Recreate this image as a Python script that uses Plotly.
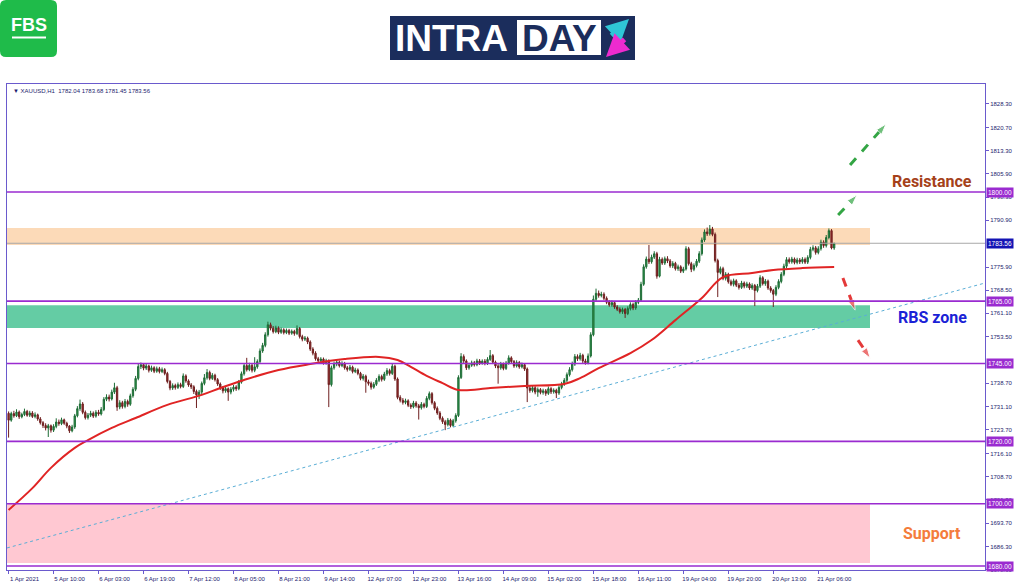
import plotly.graph_objects as go

# ---- data (hourly XAUUSD candles, bar index 0..312) ----
first_open = 1729.0
closes = [
    1726.8, 1728.9, 1728.2, 1729.4, 1727.9, 1728.6, 1729.6, 1728.4, 1729.1, 1728.0,
    1728.5, 1727.2, 1726.0, 1725.1, 1724.3, 1725.0, 1723.6, 1724.8, 1726.2, 1725.7,
    1726.9, 1725.8, 1724.9, 1723.4, 1724.6, 1728.2, 1730.5, 1732.0, 1729.3, 1727.6,
    1728.4, 1729.0, 1728.1, 1729.3, 1728.8, 1730.2, 1733.5, 1734.2, 1733.6, 1735.8,
    1737.2, 1731.0, 1732.4, 1731.2, 1732.8, 1731.9, 1734.6, 1736.7, 1740.2, 1744.0,
    1744.6, 1743.5, 1744.2, 1742.8, 1743.6, 1742.5, 1743.3, 1742.4, 1743.0, 1741.8,
    1739.2, 1737.1, 1737.9, 1737.3, 1738.2, 1737.6, 1741.0, 1739.4, 1738.1, 1737.5,
    1736.0, 1734.9, 1735.8, 1738.6, 1740.4, 1742.1, 1740.2, 1741.2, 1739.8, 1738.4,
    1737.1, 1736.2, 1736.9, 1735.8, 1736.7, 1737.4, 1736.9, 1739.0, 1741.7, 1744.3,
    1743.0, 1744.4, 1742.8, 1743.9, 1745.6, 1749.0, 1750.8, 1754.2, 1757.4, 1756.3,
    1755.2, 1756.4, 1755.0, 1755.8, 1754.9, 1755.6, 1754.7, 1755.3, 1754.6, 1756.2,
    1753.6, 1752.8, 1753.1, 1751.9, 1749.6, 1748.3, 1746.5, 1745.9, 1746.4, 1745.2,
    1745.8, 1738.2, 1743.6, 1744.8, 1745.4, 1744.3, 1745.0, 1743.6, 1743.1, 1743.8,
    1742.4, 1742.9, 1741.8, 1740.2, 1740.9, 1739.1, 1738.6, 1737.4, 1738.3, 1739.6,
    1740.8, 1739.9, 1741.6, 1742.7, 1741.8, 1744.1, 1740.0, 1734.1, 1733.2, 1732.5,
    1733.0, 1731.6, 1731.1, 1732.3, 1731.4, 1730.8, 1731.9, 1731.2, 1733.8, 1735.3,
    1732.4, 1730.6, 1729.1, 1727.4, 1726.3, 1725.4, 1726.8, 1725.1, 1726.6, 1728.3,
    1740.5, 1747.2, 1745.8, 1743.6, 1744.4, 1745.2, 1744.6, 1745.8, 1745.1, 1745.7,
    1745.0, 1746.3, 1747.5, 1745.4, 1744.2, 1743.6, 1744.8, 1743.4, 1745.1, 1746.8,
    1745.6, 1744.2, 1745.3, 1743.9, 1744.6, 1743.2, 1737.1, 1736.3, 1737.2, 1735.8,
    1736.6, 1735.7, 1736.2, 1735.4, 1736.9, 1735.9, 1736.4, 1735.5, 1737.3, 1738.4,
    1739.6, 1741.4, 1743.0, 1744.8, 1747.2, 1746.5, 1747.6, 1745.8, 1745.2, 1747.4,
    1754.2, 1765.6, 1767.5, 1766.8, 1767.2, 1765.9, 1764.6, 1763.8, 1764.5, 1763.1,
    1762.4, 1761.6, 1762.3, 1761.0, 1762.6, 1763.9, 1762.8, 1764.6, 1765.3, 1770.4,
    1776.0, 1778.5, 1777.6, 1779.1, 1780.2, 1773.0, 1778.4, 1777.2, 1778.6, 1777.9,
    1776.3, 1777.1, 1775.4, 1776.0, 1774.6, 1775.3, 1781.8, 1777.0, 1775.2, 1776.4,
    1777.8, 1780.2, 1784.6, 1787.2, 1786.6, 1788.1, 1786.4, 1778.0, 1774.2, 1775.4,
    1772.3, 1773.6, 1771.2, 1770.4, 1771.5, 1770.1, 1769.4, 1770.8, 1769.8, 1770.5,
    1769.2, 1770.0, 1768.4, 1769.8, 1772.5, 1770.6, 1771.4, 1769.2, 1768.4, 1767.2,
    1769.4, 1771.3, 1773.6, 1776.2, 1778.3, 1777.6, 1778.5, 1777.4, 1778.2, 1777.6,
    1778.4, 1777.5, 1779.0, 1781.6, 1782.1, 1780.6, 1781.8, 1783.9, 1782.8, 1785.4,
    1787.6, 1782.04, 1783.56,
]
highs = [
    1729.6, 1729.5, 1729.8, 1730.3, 1729.9, 1729.2, 1730.5, 1730.1, 1729.8, 1729.7,
    1729.3, 1728.9, 1727.8, 1726.5, 1725.8, 1725.6, 1725.4, 1725.5, 1727.4, 1727.0,
    1727.6, 1727.3, 1726.3, 1725.2, 1725.3, 1728.8, 1731.3, 1733.4, 1732.6, 1729.9,
    1729.1, 1729.8, 1729.6, 1730.0, 1730.1, 1731.0, 1734.2, 1735.1, 1735.0, 1736.6,
    1738.8, 1737.8, 1733.2, 1733.0, 1733.6, 1733.4, 1735.3, 1737.4, 1741.0, 1745.0,
    1745.3, 1745.0, 1744.9, 1744.6, 1744.3, 1744.1, 1744.0, 1743.9, 1743.7, 1743.5,
    1742.3, 1739.7, 1738.6, 1738.5, 1738.9, 1738.8, 1741.8, 1741.5, 1739.9, 1738.7,
    1738.0, 1736.6, 1736.5, 1739.2, 1741.6, 1743.2, 1742.7, 1741.9, 1741.7, 1740.3,
    1738.9, 1737.7, 1737.6, 1737.3, 1737.4, 1738.1, 1738.0, 1739.7, 1742.4, 1745.0,
    1746.8, 1745.2, 1744.9, 1747.0, 1746.3, 1749.8, 1751.6, 1755.0, 1758.4, 1758.1,
    1757.0, 1757.1, 1756.9, 1756.5, 1756.3, 1756.2, 1756.1, 1755.9, 1755.8, 1757.2,
    1756.7, 1754.2, 1753.8, 1753.6, 1752.4, 1750.2, 1748.9, 1747.1, 1747.0, 1746.9,
    1746.5, 1746.3, 1744.3, 1745.6, 1746.2, 1745.9, 1745.7, 1745.5, 1744.2, 1744.5,
    1744.3, 1743.6, 1743.4, 1742.3, 1741.6, 1741.4, 1739.8, 1739.2, 1739.0, 1740.3,
    1741.5, 1741.4, 1742.3, 1743.5, 1743.3, 1745.0, 1744.6, 1740.5, 1734.8, 1733.9,
    1733.7, 1733.5, 1732.2, 1733.0, 1732.9, 1732.0, 1732.6, 1732.4, 1734.5, 1736.0,
    1735.8, 1732.9, 1731.2, 1729.7, 1728.0, 1726.9, 1727.5, 1727.3, 1727.2, 1729.0,
    1741.2, 1748.3, 1747.9, 1746.3, 1745.2, 1745.9, 1745.8, 1746.5, 1746.4, 1746.3,
    1746.4, 1747.0, 1749.3, 1748.0, 1745.9, 1744.8, 1745.5, 1745.3, 1745.8, 1747.6,
    1747.3, 1746.1, 1746.0, 1745.8, 1745.3, 1745.1, 1743.7, 1737.8, 1737.9, 1737.7,
    1737.3, 1737.1, 1736.9, 1736.8, 1737.6, 1737.4, 1737.0, 1736.9, 1738.0, 1739.1,
    1740.3, 1742.1, 1743.8, 1745.6, 1748.0, 1747.9, 1748.4, 1748.1, 1746.5, 1748.2,
    1755.0, 1766.8, 1769.0, 1768.4, 1768.0, 1767.8, 1766.5, 1765.3, 1765.2, 1765.0,
    1763.7, 1763.0, 1762.9, 1762.8, 1763.3, 1764.6, 1764.5, 1765.3, 1766.0, 1771.2,
    1776.8, 1779.3, 1783.0, 1779.9, 1781.0, 1780.8, 1779.2, 1779.0, 1779.3, 1779.4,
    1778.5, 1777.8, 1777.6, 1776.7, 1776.5, 1776.0, 1782.6, 1782.4, 1777.6, 1777.1,
    1778.5, 1781.0, 1785.4, 1788.0, 1788.6, 1789.4, 1788.8, 1787.0, 1778.6, 1776.1,
    1776.0, 1774.3, 1774.1, 1771.9, 1772.2, 1772.0, 1770.8, 1771.5, 1771.3, 1771.2,
    1771.0, 1770.7, 1770.5, 1770.5, 1773.3, 1773.0, 1772.1, 1771.9, 1769.8, 1768.9,
    1770.1, 1772.0, 1774.3, 1777.0, 1779.1, 1779.0, 1779.2, 1779.0, 1778.9, 1778.8,
    1779.1, 1779.0, 1779.7, 1782.4, 1782.9, 1782.7, 1782.6, 1784.7, 1784.5, 1786.2,
    1788.3, 1788.1, 1783.68,
]
lows = [
    1721.2, 1726.3, 1727.6, 1727.8, 1727.2, 1727.4, 1728.1, 1727.9, 1727.8, 1727.5,
    1727.4, 1726.6, 1725.4, 1724.3, 1723.5, 1721.4, 1722.8, 1723.0, 1724.2, 1725.0,
    1725.2, 1725.3, 1724.2, 1722.7, 1722.9, 1724.0, 1727.7, 1729.8, 1728.7, 1727.0,
    1727.0, 1727.8, 1727.5, 1727.6, 1728.2, 1728.3, 1729.7, 1732.9, 1732.8, 1733.1,
    1735.2, 1729.8, 1730.3, 1730.5, 1730.6, 1731.1, 1731.4, 1734.0, 1736.1, 1739.6,
    1743.2, 1742.8, 1742.9, 1742.1, 1742.3, 1741.9, 1742.0, 1741.8, 1741.9, 1741.2,
    1738.6, 1736.4, 1736.5, 1736.6, 1736.8, 1737.0, 1737.1, 1738.8, 1737.5, 1736.8,
    1735.2, 1730.7, 1733.6, 1735.2, 1738.0, 1739.8, 1739.6, 1739.7, 1739.2, 1737.8,
    1736.5, 1735.4, 1735.6, 1733.0, 1735.1, 1736.0, 1736.2, 1736.4, 1738.5, 1741.1,
    1742.4, 1742.5, 1742.1, 1742.2, 1743.3, 1745.0, 1748.4, 1750.2, 1753.6, 1755.6,
    1754.6, 1754.7, 1754.4, 1754.5, 1754.3, 1754.4, 1754.1, 1754.2, 1753.9, 1754.1,
    1753.0, 1752.1, 1752.2, 1751.2, 1749.0, 1747.6, 1745.9, 1745.1, 1745.3, 1744.6,
    1744.6, 1731.0, 1737.6, 1743.0, 1744.1, 1743.7, 1743.8, 1743.0, 1742.4, 1742.6,
    1741.8, 1741.9, 1741.2, 1739.6, 1739.5, 1735.6, 1737.9, 1736.6, 1736.9, 1737.8,
    1739.0, 1739.2, 1739.4, 1741.0, 1741.1, 1741.3, 1739.4, 1733.5, 1732.5, 1731.8,
    1731.9, 1731.0, 1730.4, 1730.6, 1730.8, 1727.0, 1730.2, 1730.6, 1730.7, 1733.2,
    1731.8, 1730.0, 1728.5, 1726.8, 1725.6, 1723.6, 1724.8, 1724.5, 1724.6, 1726.0,
    1727.8, 1740.0, 1745.1, 1742.9, 1743.0, 1743.9, 1744.0, 1744.1, 1744.5, 1744.6,
    1744.4, 1744.5, 1745.8, 1744.8, 1743.5, 1738.5, 1743.0, 1742.8, 1742.9, 1744.6,
    1745.0, 1743.6, 1743.7, 1743.3, 1743.4, 1742.6, 1732.6, 1735.6, 1735.7, 1735.1,
    1734.3, 1735.1, 1735.0, 1734.6, 1734.9, 1735.2, 1735.3, 1733.9, 1734.9, 1736.7,
    1737.8, 1739.0, 1740.8, 1742.4, 1744.2, 1745.8, 1745.9, 1745.1, 1744.6, 1744.7,
    1746.9, 1753.7, 1765.0, 1766.1, 1766.2, 1765.3, 1764.0, 1763.2, 1763.2, 1762.5,
    1761.8, 1761.0, 1760.9, 1759.6, 1760.5, 1762.0, 1762.1, 1762.2, 1764.0, 1764.8,
    1769.9, 1775.4, 1776.9, 1777.0, 1778.5, 1772.2, 1772.6, 1776.6, 1776.6, 1777.2,
    1775.7, 1775.6, 1774.8, 1774.7, 1774.0, 1774.0, 1774.8, 1776.4, 1774.3, 1774.6,
    1775.8, 1777.2, 1779.6, 1784.0, 1785.9, 1786.0, 1785.8, 1777.4, 1766.3, 1773.6,
    1771.7, 1771.6, 1770.6, 1769.8, 1769.7, 1769.5, 1768.7, 1768.9, 1769.1, 1769.2,
    1768.6, 1768.6, 1763.4, 1767.8, 1769.2, 1770.0, 1769.9, 1768.6, 1767.7, 1763.1,
    1766.6, 1768.8, 1770.7, 1773.0, 1775.6, 1777.0, 1777.0, 1776.8, 1776.8, 1776.9,
    1777.0, 1776.9, 1776.9, 1778.4, 1781.0, 1779.9, 1780.0, 1781.2, 1782.1, 1782.2,
    1784.8, 1781.6, 1781.45,
]
opens = [first_open] + closes[:-1]

# moving average (red), read at selected bars
ma_bars = [0, 9, 16, 25, 30, 39, 48, 60, 73, 80, 89, 102, 114, 127, 140, 147, 152,
           158, 164, 170, 182, 195, 210, 216, 223, 235, 243, 252, 262, 270, 281, 289, 300, 312]
ma_vals = [1698.0, 1705.0, 1711.5, 1717.9, 1720.4, 1724.3, 1727.5, 1731.7, 1734.9, 1737.1,
           1739.7, 1742.9, 1744.8, 1746.4, 1747.1, 1746.1, 1743.9, 1741.0, 1738.7, 1736.5,
           1737.1, 1737.8, 1738.4, 1740.3, 1743.5, 1748.3, 1752.5, 1758.9, 1766.0, 1772.7,
           1774.0, 1775.0, 1775.6, 1775.9]

# dotted trend line
trend_bars = [-0.6, 369]
trend_vals = [1685.8, 1770.8]

# horizontal levels, zones, current price
levels = [1800.00, 1765.00, 1745.00, 1720.00, 1700.00, 1680.00]
last_price = 1783.56
zone_orange = [1783.0, 1788.45]
zone_green = [1756.4, 1763.7]
zone_pink = [1681.0, 1700.0]

# projected arrows (bar, price)
green_arrows = [([313.5, 320.6], [1792.6, 1799.0]), ([318.0, 331.6], [1808.7, 1821.8])]
red_arrows = [([315.3, 319.9], [1772.4, 1762.1]), ([321.0, 325.6], [1752.5, 1746.7])]

x_tickvals = [0, 17, 34, 51, 68, 85, 102, 119, 136, 153, 170, 187, 204, 221, 238, 255, 272, 289, 306]
x_ticktext = ["1 Apr 2021", "5 Apr 10:00", "6 Apr 03:00", "6 Apr 19:00", "7 Apr 12:00",
              "8 Apr 05:00", "8 Apr 21:00", "9 Apr 14:00", "12 Apr 07:00", "12 Apr 23:00",
              "13 Apr 16:00", "14 Apr 09:00", "15 Apr 02:00", "15 Apr 18:00", "16 Apr 11:00",
              "19 Apr 04:00", "19 Apr 20:00", "20 Apr 13:00", "21 Apr 06:00"]
y_tickvals = [1828.3, 1820.7, 1813.3, 1805.9, 1798.3, 1790.9, 1775.9, 1768.5, 1761.1, 1753.5,
              1738.7, 1731.1, 1723.7, 1716.1, 1708.7, 1701.3, 1693.7, 1686.3, 1678.9]

# ---- layout helpers (pixel -> paper) ----
W, H = 1024, 587
L, R, T, B = 7, 39, 84, 17
PW, PH = W - L - R, H - T - B


def px(x):
    return (x - L) / PW


def py(y):
    return (H - B - y) / PH


def rounded_rect(x0, y0, x1, y1, r):
    rx, ry = r / PW, r / PH
    a, b, c, d = px(x0), py(y1), px(x1), py(y0)
    return (f"M {a+rx},{b} L {c-rx},{b} Q {c},{b} {c},{b+ry} L {c},{d-ry} Q {c},{d} {c-rx},{d} "
            f"L {a+rx},{d} Q {a},{d} {a},{d-ry} L {a},{b+ry} Q {a},{b} {a+rx},{b} Z")


NAVY = '#1c1c6e'
PURPLE = '#9a2bd0'
AXIS = '#6a5acd'
tick_font = dict(family='Liberation Sans', size=6, color=NAVY)

fig = go.Figure()

fig.add_trace(go.Scatter(x=trend_bars, y=trend_vals, mode='lines',
                         line=dict(color='#5aaed6', width=1, dash='dot'), hoverinfo='skip'))

fig.add_trace(go.Candlestick(
    x=list(range(len(closes))), open=opens, high=highs, low=lows, close=closes,
    increasing=dict(line=dict(color='#1d6b35', width=1), fillcolor='#2f9a4e'),
    decreasing=dict(line=dict(color='#6e1f1f', width=1), fillcolor='#9a2b2b'),
    whiskerwidth=0))

fig.add_trace(go.Scatter(x=ma_bars, y=ma_vals, mode='lines', line_shape='spline',
                         line=dict(color='#e02424', width=2), hoverinfo='skip'))

for xs, ys in green_arrows:
    fig.add_trace(go.Scatter(x=xs, y=ys, mode='lines+markers',
                             line=dict(color='#33a544', width=3, dash='dash'),
                             marker=dict(symbol='arrow', angleref='previous', size=[0, 11], color='#33a544')))
for xs, ys in red_arrows:
    fig.add_trace(go.Scatter(x=xs, y=ys, mode='lines+markers',
                             line=dict(color='#e43a3a', width=3, dash='dash'),
                             marker=dict(symbol='arrow', angleref='previous', size=[0, 11], color='#e43a3a')))

shapes = []
for (y0, y1), col in [(zone_orange, '#fcdab8'), (zone_green, '#64cca4'), (zone_pink, '#ffc8d2')]:
    shapes.append(dict(type='rect', xref='paper', yref='y', x0=0, x1=px(870), y0=y0, y1=y1,
                       fillcolor=col, line_width=0, layer='below'))
shapes.append(dict(type='line', xref='paper', yref='y', x0=0, x1=1, y0=last_price, y1=last_price,
                   line=dict(color='#a8a8a8', width=1)))
for lv in levels:
    shapes.append(dict(type='line', xref='paper', yref='y', x0=0, x1=1, y0=lv, y1=lv,
                       line=dict(color=PURPLE, width=1.6)))

# logos
shapes.append(dict(type='path', xref='paper', yref='paper', path=rounded_rect(0, 0, 57, 57, 6),
                   fillcolor='#1fbb4a', line_width=0))
shapes.append(dict(type='line', xref='paper', yref='paper', x0=px(12), x1=px(46), y0=py(37.5), y1=py(37.5),
                   line=dict(color='white', width=2)))
shapes.append(dict(type='rect', xref='paper', yref='paper', x0=px(390), x1=px(635), y0=py(60), y1=py(16),
                   fillcolor='#1b2d5c', line_width=0))
shapes.append(dict(type='rect', xref='paper', yref='paper', x0=px(517), x1=px(601), y0=py(55), y1=py(20),
                   fillcolor='white', line_width=0))

annotations = []
annotations.append(dict(xref='paper', yref='paper', x=px(29), y=py(25), xanchor='center', yanchor='middle',
                        text='<b>FBS</b>', showarrow=False,
                        font=dict(family='Liberation Sans', size=18, color='white')))
annotations.append(dict(xref='paper', yref='paper', x=px(393), y=py(38.5), xanchor='left', yanchor='middle',
                        text='<b>INTRA</b>', showarrow=False,
                        font=dict(family='Liberation Sans', size=37, color='white')))
annotations.append(dict(xref='paper', yref='paper', x=px(559), y=py(38.5), xanchor='center', yanchor='middle',
                        text='<b>DAY</b>', showarrow=False,
                        font=dict(family='Liberation Sans', size=37, color='#1b2d5c')))
annotations.append(dict(xref='paper', yref='paper', x=px(629), y=py(19), ax=-19, ay=18, text='',
                        showarrow=True, arrowhead=2, arrowsize=0.9, arrowwidth=5, arrowcolor='#2fc6d6'))
annotations.append(dict(xref='paper', yref='paper', x=px(606), y=py(57), ax=20, ay=-19, text='',
                        showarrow=True, arrowhead=2, arrowsize=0.9, arrowwidth=5, arrowcolor='#ee2bcf'))

annotations.append(dict(xref='paper', yref='paper', x=px(11), y=py(86), xanchor='left', yanchor='top',
                        text='▼ XAUUSD,H1  1782.04 1783.68 1781.45 1783.56', showarrow=False,
                        font=dict(family='Liberation Sans', size=6, color=NAVY)))

for lv in levels:
    annotations.append(dict(xref='paper', yref='y', x=1, y=lv, xanchor='left', yanchor='middle', xshift=1,
                            text=f'{lv:.2f}', showarrow=False, bgcolor=PURPLE, borderpad=1,
                            font=dict(family='Liberation Sans', size=6.5, color='white')))
annotations.append(dict(xref='paper', yref='y', x=1, y=last_price, xanchor='left', yanchor='middle', xshift=1,
                        text=f'{last_price:.2f}', showarrow=False, bgcolor='#1414b4', borderpad=1,
                        font=dict(family='Liberation Sans', size=6.5, color='white')))

for txt, yv, col in [('Resistance', 1803.5, '#a5411a'), ('RBS zone', 1759.6, '#1a22d6'),
                     ('Support', 1690.3, '#f47c3c')]:
    annotations.append(dict(xref='paper', yref='y', x=px(932), y=yv, xanchor='center', yanchor='middle',
                            text=f'<b>{txt}</b>', showarrow=False,
                            font=dict(family='Roboto', size=16, color=col)))

fig.update_layout(
    width=W, height=H, margin=dict(l=L, r=R, t=T, b=B, autoexpand=False),
    paper_bgcolor='white', plot_bgcolor='white', showlegend=False,
    shapes=shapes, annotations=annotations,
    xaxis=dict(range=[-0.6, 369], showgrid=False, zeroline=False, showline=True, mirror=True,
               linecolor=AXIS, linewidth=1, ticks='outside', ticklen=3, tickcolor=AXIS,
               tickvals=x_tickvals, ticktext=x_ticktext, tickfont=tick_font, ticklabelshift=16,
               rangeslider=dict(visible=False)),
    yaxis=dict(side='right', range=[1678.73, 1834.65], showgrid=False, zeroline=False, showline=True,
               mirror=True, linecolor=AXIS, linewidth=1, ticks='outside', ticklen=3, tickcolor=AXIS,
               tickvals=y_tickvals, ticktext=[f'{v:.2f}' for v in y_tickvals], tickfont=tick_font),
)

fig.write_html("out.html", config={'displayModeBar': False},
               post_script="document.body.style.margin='0px';")
